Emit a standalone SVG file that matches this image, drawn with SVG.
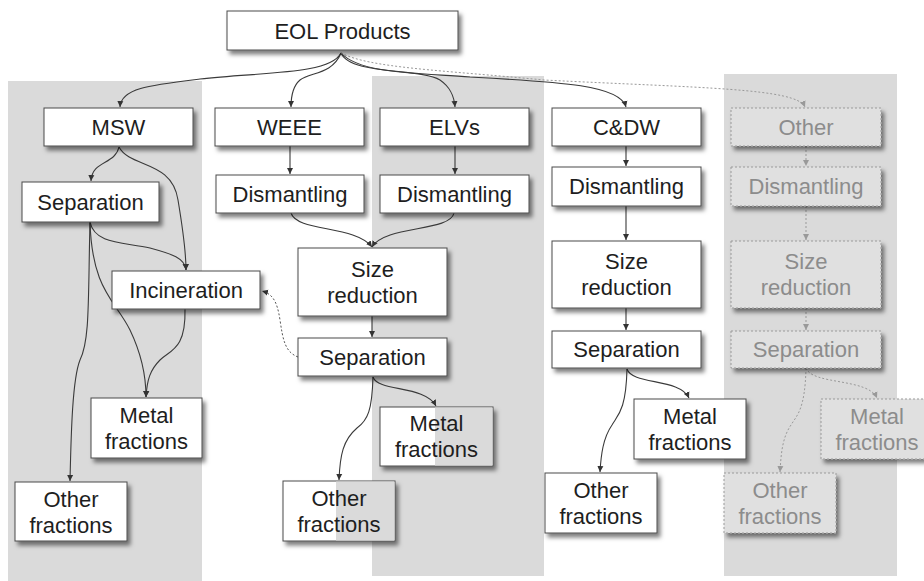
<svg xmlns="http://www.w3.org/2000/svg" width="924" height="581" viewBox="0 0 924 581">
  <defs>
    <filter id="shadow" x="-10%" y="-20%" width="130%" height="150%">
      <feDropShadow dx="3" dy="4" stdDeviation="2" flood-color="#000" flood-opacity="0.5"/>
    </filter>
    <marker id="arrow" markerWidth="7" markerHeight="7" refX="6" refY="3.5" orient="auto" markerUnits="userSpaceOnUse">
      <path d="M0,0.5 L6,3.5 L0,6.5 Z" fill="#333"/>
    </marker>
    <marker id="arrow-faint" markerWidth="7" markerHeight="7" refX="6" refY="3.5" orient="auto" markerUnits="userSpaceOnUse">
      <path d="M0,0.5 L6,3.5 L0,6.5 Z" fill="#999"/>
    </marker>
    <style>
      .band { fill: #dadada; }
      .box rect.frame { fill: #ffffff; stroke: #4a4a4a; stroke-width: 1; filter: url(#shadow); }
      .box rect.half { fill: #dadada; stroke: none; }
      .box text { font-family: "Liberation Sans", Arial, sans-serif; font-size: 22px; fill: #1e1e1e; text-anchor: middle; }
      .faint rect { fill: #e0e0e0; stroke: #9a9a9a; stroke-width: 1; stroke-dasharray: 2 2; filter: url(#shadow); }
      .faint text { font-family: "Liberation Sans", Arial, sans-serif; font-size: 22px; fill: #8c8c8c; text-anchor: middle; }
      .link { fill: none; stroke: #3a3a3a; stroke-width: 1.1; marker-end: url(#arrow); }
      .dash { fill: none; stroke: #555; stroke-width: 1; stroke-dasharray: 2 2; marker-end: url(#arrow); }
      .faint-link { fill: none; stroke: #999; stroke-width: 1; stroke-dasharray: 2 2; marker-end: url(#arrow-faint); }
    </style>
  </defs>

  <rect width="924" height="581" fill="#ffffff"/>

  <!-- column bands -->
  <g id="bands">
    <rect class="band" x="8" y="81" width="194" height="500"/>
    <rect class="band" x="372" y="76" width="172" height="500"/>
    <rect class="band" x="724" y="74" width="173" height="502"/>
  </g>

  <!-- connectors -->
  <g id="connectors">
    <path class="link" d="M341,53 C330,75 260,72 200,79 C150,85 121,88 120,107"/>
    <path class="link" d="M341,53 C332,75 310,72 300,80 C293,86 291,95 291,107"/>
    <path class="link" d="M341,53 C350,75 420,68 440,80 C450,87 454,95 455,107"/>
    <path class="link" d="M341,53 C360,74 420,73 470,77 C560,82 620,85 626,107"/>
    <path class="faint-link" d="M341,53 C370,68 440,70 544,80 C700,88 797,88 805,107"/>

    <path class="link" d="M119,147 C115,165 92,160 91,181"/>
    <path class="link" d="M119,147 C130,168 172,160 178,200 C183,230 186,250 186,270"/>
    <path class="link" d="M90,222 C95,245 125,242 150,248 C172,254 185,258 186,270"/>
    <path class="link" d="M90,222 C88,300 90,340 80,360 C72,380 71,440 70,481"/>
    <path class="link" d="M90,222 C92,290 115,300 130,330 C142,355 146,375 146,397"/>
    <path class="link" d="M185,309 C186,350 170,350 160,360 C150,370 147,380 146,397"/>

    <path class="link" d="M290,146 L290,174"/>
    <path class="link" d="M455,146 L455,174"/>
    <path class="link" d="M291,213 C297,232 355,225 372,247"/>
    <path class="link" d="M454,213 C450,232 385,225 372,247"/>
    <path class="link" d="M372,316 L372,337"/>
    <path class="dash" d="M298,357 C285,352 283,340 280,320 C277,300 272,294 262,291"/>
    <path class="link" d="M373,377 C378,392 425,385 436,406"/>
    <path class="link" d="M373,377 C372,410 368,420 357,428 C343,440 340,455 339,480"/>

    <path class="link" d="M626,146 L626,166"/>
    <path class="link" d="M626,206 L626,240"/>
    <path class="link" d="M626,308 L626,330"/>
    <path class="link" d="M627,369 C632,385 680,378 689,398"/>
    <path class="link" d="M627,369 C626,410 618,415 612,425 C603,438 601,455 600,472"/>

    <path class="faint-link" d="M806,146 L806,166"/>
    <path class="faint-link" d="M806,206 L806,240"/>
    <path class="faint-link" d="M806,308 L806,330"/>
    <path class="faint-link" d="M806,368 C812,385 868,378 877,398"/>
    <path class="faint-link" d="M806,368 C805,410 797,415 791,425 C782,438 781,455 780,472"/>
  </g>

  <!-- nodes -->
  <g id="eol" class="box"><rect class="frame" x="227" y="11" width="231" height="39"/><text x="342.5" y="38.5">EOL Products</text></g>

  <g id="msw" class="box"><rect class="frame" x="44" y="108" width="149" height="38"/><text x="118.5" y="135">MSW</text></g>
  <g id="weee" class="box"><rect class="frame" x="215" y="108" width="149" height="38"/><text x="289.5" y="135">WEEE</text></g>
  <g id="elvs" class="box"><rect class="frame" x="380" y="108" width="149" height="38"/><text x="454.5" y="135">ELVs</text></g>
  <g id="cdw" class="box"><rect class="frame" x="552" y="108" width="149" height="38"/><text x="626.5" y="135">C&amp;DW</text></g>
  <g id="other" class="faint"><rect x="731" y="108" width="150" height="38"/><text x="806" y="135">Other</text></g>

  <g id="msw-separation" class="box"><rect class="frame" x="22" y="182" width="137" height="40"/><text x="90.5" y="210">Separation</text></g>
  <g id="weee-dismantling" class="box"><rect class="frame" x="216" y="175" width="148" height="38"/><text x="290" y="202">Dismantling</text></g>
  <g id="elvs-dismantling" class="box"><rect class="frame" x="380" y="175" width="149" height="38"/><text x="454.5" y="202">Dismantling</text></g>
  <g id="cdw-dismantling" class="box"><rect class="frame" x="552" y="167" width="149" height="39"/><text x="626.5" y="194">Dismantling</text></g>
  <g id="other-dismantling" class="faint"><rect x="731" y="167" width="150" height="39"/><text x="806" y="194">Dismantling</text></g>

  <g id="msw-incineration" class="box"><rect class="frame" x="112" y="271" width="148" height="38"/><text x="186" y="298">Incineration</text></g>

  <g id="mid-size-reduction" class="box"><rect class="frame" x="298" y="248" width="149" height="68"/><text x="372.5" y="277">Size</text><text x="372.5" y="303">reduction</text></g>
  <g id="mid-separation" class="box"><rect class="frame" x="298" y="338" width="149" height="38"/><text x="372.5" y="365">Separation</text></g>

  <g id="cdw-size-reduction" class="box"><rect class="frame" x="552" y="241" width="149" height="67"/><text x="626.5" y="269">Size</text><text x="626.5" y="295">reduction</text></g>
  <g id="cdw-separation" class="box"><rect class="frame" x="552" y="331" width="149" height="37"/><text x="626.5" y="357">Separation</text></g>

  <g id="other-size-reduction" class="faint"><rect x="731" y="241" width="150" height="67"/><text x="806" y="269">Size</text><text x="806" y="295">reduction</text></g>
  <g id="other-separation" class="faint"><rect x="731" y="331" width="150" height="37"/><text x="806" y="357">Separation</text></g>

  <g id="msw-metal" class="box"><rect class="frame" x="91" y="398" width="111" height="60"/><text x="146.5" y="423">Metal</text><text x="146.5" y="449">fractions</text></g>
  <g id="msw-other" class="box"><rect class="frame" x="15" y="482" width="112" height="59"/><text x="71" y="507">Other</text><text x="71" y="533">fractions</text></g>

  <g id="mid-metal" class="box"><rect class="frame" x="380" y="407" width="113" height="59"/><rect class="half" x="435" y="407.5" width="57.5" height="58"/><text x="436.5" y="431">Metal</text><text x="436.5" y="457">fractions</text></g>
  <g id="mid-other" class="box"><rect class="frame" x="283" y="481" width="112" height="60"/><rect class="half" x="336" y="481.5" width="58.5" height="59"/><text x="339" y="506">Other</text><text x="339" y="532">fractions</text></g>

  <g id="cdw-metal" class="box"><rect class="frame" x="634" y="399" width="112" height="60"/><text x="690" y="424">Metal</text><text x="690" y="450">fractions</text></g>
  <g id="cdw-other" class="box"><rect class="frame" x="545" y="473" width="112" height="60"/><text x="601" y="498">Other</text><text x="601" y="524">fractions</text></g>

  <g id="other-metal" class="faint"><rect x="821" y="399" width="112" height="60"/><text x="877" y="424">Metal</text><text x="877" y="450">fractions</text></g>
  <g id="other-other" class="faint"><rect x="724" y="473" width="112" height="60"/><text x="780" y="498">Other</text><text x="780" y="524">fractions</text></g>
</svg>
